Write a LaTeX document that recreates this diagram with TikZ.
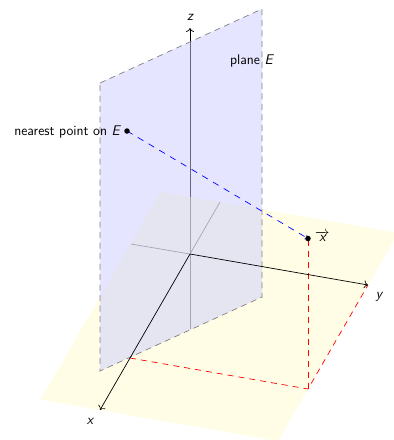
\documentclass[tikz,border=0pt]{standalone}
\usetikzlibrary{arrows.meta}
\begin{document}
\begin{tikzpicture}[x=1pt,y=-1pt,
  font=\fontsize{14}{16}\selectfont\sffamily,
  axisline/.style={black,line width=0.7pt},
  axisarrow/.style={black,line width=0.7pt,-{To[length=4pt,width=8pt]}},
  groundplane/.style={fill=yellow!20,fill opacity=0.5},
  planeE/.style={fill=blue!20,fill opacity=0.5},
  planeedge/.style={gray,line width=0.7pt,dash pattern=on 6pt off 4.5pt},
  projline/.style={red,line width=0.7pt,dash pattern=on 6pt off 5pt},
  nearline/.style={blue,line width=0.7pt,dash pattern=on 6.5pt off 6pt},
  ptdot/.style={circle,fill=black,inner sep=0pt,minimum size=5.5pt}]
\useasboundingbox (0,0) rectangle (394,440);
% axis points
\coordinate (O) at (190,254);
\coordinate (xtip) at (100,410);
\coordinate (xneg) at (220,202);
\coordinate (ytip) at (368,285);
\coordinate (yneg) at (131,244);
\coordinate (ztip) at (190,28);
\coordinate (zneg) at (190,329);
% ground plane corners
\coordinate (g1) at (160.7,191.7);
\coordinate (g2) at (398,233);
\coordinate (g3) at (278,441);
\coordinate (g4) at (40.7,399.7);
% plane E corners
\coordinate (e1) at (100,83);
\coordinate (e2) at (262,9);
\coordinate (e3) at (262,297);
\coordinate (e4) at (100,371);
% projection points
\coordinate (px) at (130,358);
\coordinate (pf) at (308,389);
\coordinate (X) at (308,238.5);
\coordinate (N) at (127,131);
% axes below the planes
\draw[axisline] (xneg) -- (O);
\draw[axisline] (yneg) -- (O);
\draw[axisarrow] (zneg) -- (ztip);
% planes
\fill[groundplane] (g1) -- (g2) -- (g3) -- (g4) -- cycle;
\fill[planeE] (e1) -- (e2) -- (e3) -- (e4) -- cycle;
\draw[planeedge] (e1) -- (e2) -- (e3) -- (e4) -- cycle;
% red projection
\draw[projline] (px) -- (pf) -- (ytip);
\draw[projline] (pf) -- (X);
% positive axes on top
\draw[axisarrow] (O) -- (xtip);
\draw[axisarrow] (O) -- (ytip);
% nearest point line
\draw[nearline,-{To[length=3pt,width=5pt]}] (N) -- (X);
\node[ptdot] (Xd) at (X) {};
\node[ptdot] (Nd) at (N) {};
% labels
\node (lz) at (190,17) {\itshape z};
\node (lx) at (90,421) {\itshape x};
\node (ly) at (379,297) {\itshape y};
\node[anchor=west,inner sep=1pt] (lX) at (314,236) {$\overrightarrow{\mbox{\sffamily\itshape x}}$};
\node[anchor=east,inner sep=1pt] (lN) at (121,132) {nearest point on \itshape E};
\node[anchor=east,inner sep=1pt] (lE) at (274,61) {plane \itshape E};
\end{tikzpicture}
\end{document}
